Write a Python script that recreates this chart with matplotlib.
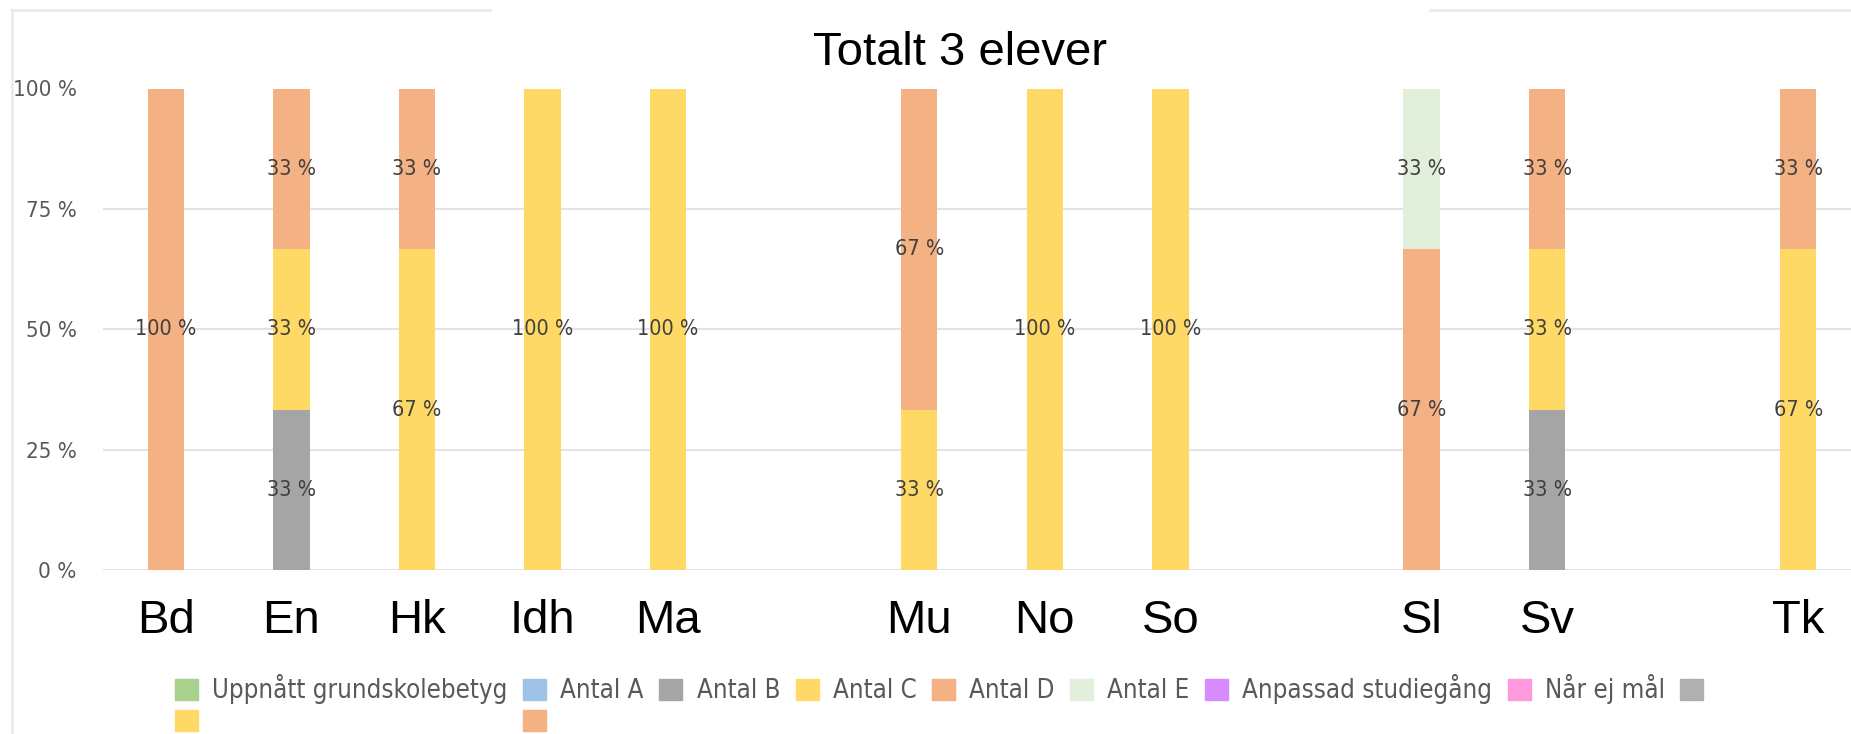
import matplotlib.pyplot as plt
from matplotlib.patches import Patch
import matplotlib.font_manager as fm

# Subjects; empty strings are unused slots in the original chart
subjects = ['Bd', 'En', 'Hk', 'Idh', 'Ma', '', 'Mu', 'No', 'So', '', 'Sl', 'Sv', '', 'Tk']
total_students = 3

# Number of students per grade and subject
antal_b = [0, 1, 0, 0, 0, 0, 0, 0, 0, 0, 0, 1, 0, 0]
antal_c = [0, 1, 2, 3, 3, 0, 1, 3, 3, 0, 0, 1, 0, 2]
antal_d = [3, 1, 1, 0, 0, 0, 2, 0, 0, 0, 2, 1, 0, 1]
antal_e = [0, 0, 0, 0, 0, 0, 0, 0, 0, 0, 1, 0, 0, 0]

series = [('Antal B', antal_b, '#A5A5A5'),
          ('Antal C', antal_c, '#FFD966'),
          ('Antal D', antal_d, '#F4B183'),
          ('Antal E', antal_e, '#E2EFDA')]

# a condensed face if one is installed
has_cond = any('condensed' in f.fname.lower() and 'dejavusans' in f.fname.lower().replace('-', '')
               for f in fm.fontManager.ttflist)
small_font = fm.FontProperties(family='DejaVu Sans', stretch='condensed' if has_cond else 'normal')

fig = plt.figure(figsize=(18.51, 7.34), dpi=100)
ax = fig.add_axes([103 / 1851, 1 - 570 / 734, 1 - 103 / 1851, (570 - 88.5) / 734])

x = list(range(len(subjects)))
bottom = [0.0] * len(subjects)
for name, counts, color in series:
    pct = [c / total_students * 100 for c in counts]
    ax.bar(x, pct, width=0.29, bottom=bottom, color=color, zorder=2)
    for i, p in enumerate(pct):
        if p > 0:
            ax.text(i, bottom[i] + p / 2, f'{round(p)} %', ha='center', va='center',
                    fontproperties=small_font, fontsize=15.5, color='#404040', zorder=3)
    bottom = [b + p for b, p in zip(bottom, pct)]

ax.set_xlim(-0.5, 13.42)
ax.set_ylim(0, 100)
ax.set_yticks([0, 25, 50, 75, 100])
ax.set_yticklabels([f'{v} %' for v in [0, 25, 50, 75, 100]])
for t in ax.get_yticklabels():
    t.set_fontproperties(small_font)
    t.set_fontsize(16)
    t.set_color('#595959')
ax.set_xticks(x)
ax.set_xticklabels(subjects, fontsize=34, family='Liberation Sans')
ax.tick_params(axis='x', length=0, pad=21)
ax.tick_params(axis='y', length=0, pad=19)
ax.grid(axis='y', color='#E3E3E3', linewidth=1.5, zorder=0)
for s in ax.spines.values():
    s.set_visible(False)

fig.text(960 / 1851, 1 - 53 / 734, 'Totalt 3 elever', ha='center', va='center', fontsize=34, family='Liberation Sans')

# screenshot frame lines
fig.add_artist(plt.Line2D([11 / 1851, 490 / 1851], [1 - 10 / 734] * 2, color='#EBEBEB', lw=2))
fig.add_artist(plt.Line2D([1430 / 1851, 1.0], [1 - 10 / 734] * 2, color='#EBEBEB', lw=2))
fig.add_artist(plt.Line2D([12 / 1851] * 2, [0, 1 - 10 / 734], color='#EBEBEB', lw=2))

# legend, ordered so that the leftover squares end up in the second row
handles = [Patch(color='#A9D18E', label='Uppnått grundskolebetyg'),
           Patch(color='#FFD966', label=' '),
           Patch(color='#9DC3E6', label='Antal A'),
           Patch(color='#F4B183', label=' '),
           Patch(color='#A5A5A5', label='Antal B'),
           Patch(color='#FFD966', label='Antal C'),
           Patch(color='#F4B183', label='Antal D'),
           Patch(color='#E2EFDA', label='Antal E'),
           Patch(color='#D68CFF', label='Anpassad studiegång'),
           Patch(color='#FF99DD', label='Når ej mål'),
           Patch(color='#B0B0B0', label=' ')]
leg_font = small_font.copy()
leg_font.set_size(18.5)
leg = fig.legend(handles=handles, ncol=9, loc='center', bbox_to_anchor=(950 / 1851, 0.04),
                 frameon=False, prop=leg_font, borderpad=0,
                 handlelength=0.9, handleheight=0.9, handletextpad=0.55,
                 columnspacing=0.6, labelspacing=0.2)
for t in leg.get_texts():
    t.set_color('#595959')

fig.savefig('out.png', dpi=100)
